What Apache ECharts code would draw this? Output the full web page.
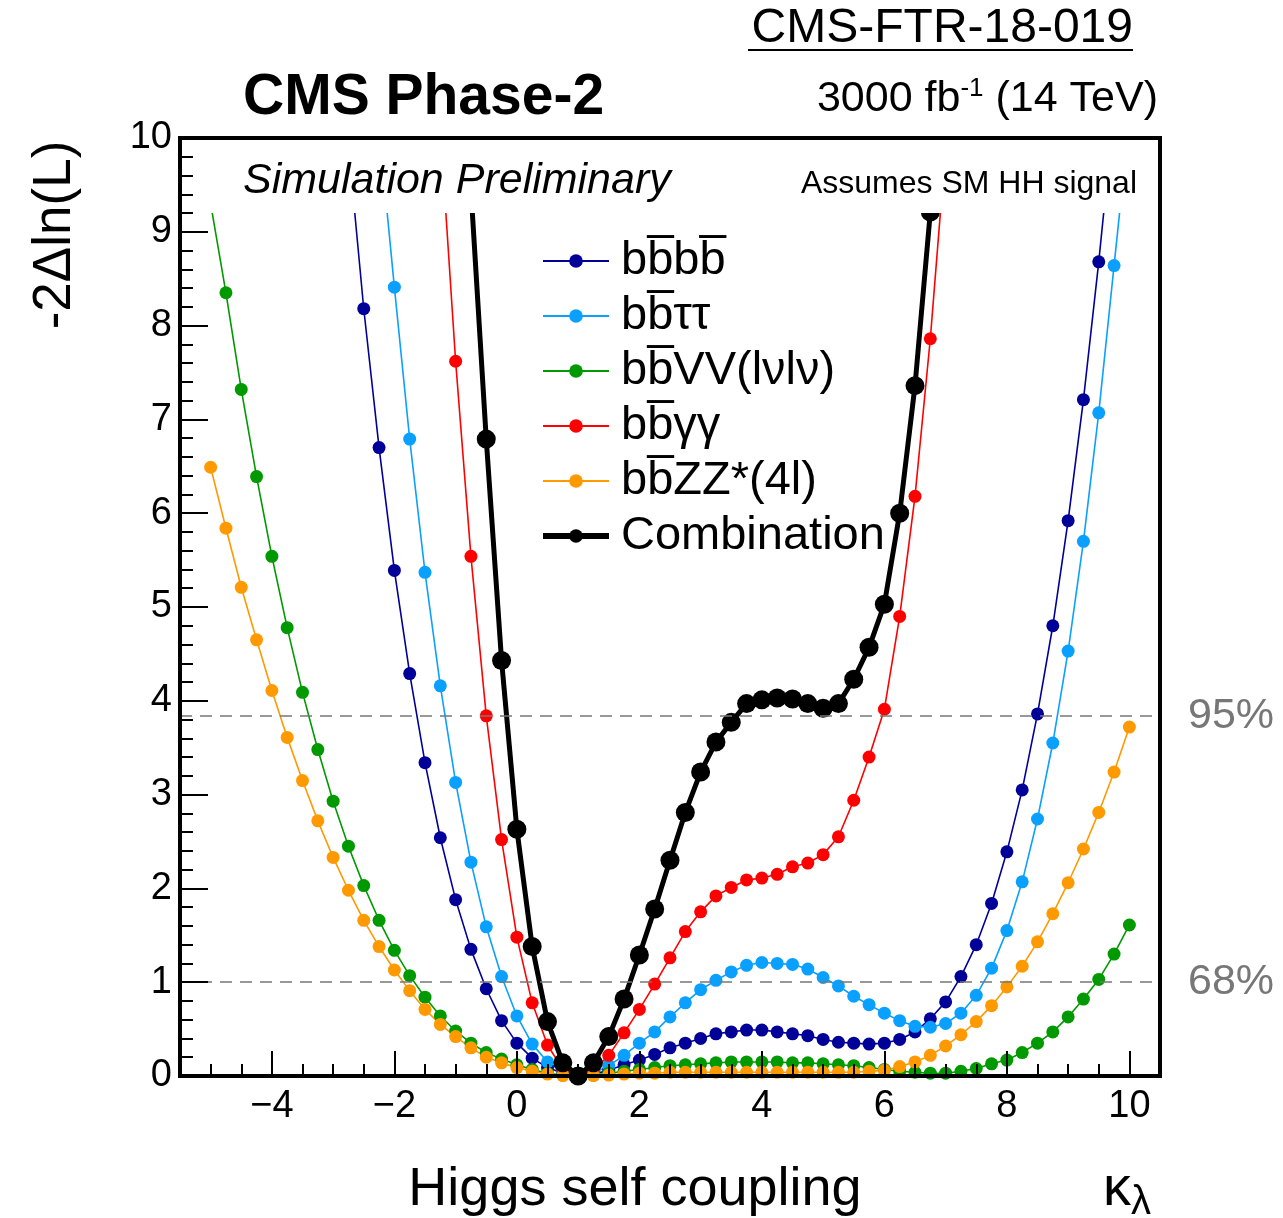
<!DOCTYPE html>
<html>
<head>
<meta charset="utf-8">
<script src="https://cdn.jsdelivr.net/npm/echarts@6/dist/echarts.min.js"></script>
<style>
html,body{margin:0;padding:0;background:#fff;}
#chart{width:1283px;height:1218px;}
</style>
</head>
<body>
<div id="chart"></div>
<script>
// kappa_lambda scan points
const kl = [-5,-4.75,-4.5,-4.25,-4,-3.75,-3.5,-3.25,-3,-2.75,-2.5,-2.25,-2,-1.75,-1.5,-1.25,-1,-0.75,-0.5,-0.25,
  0,0.25,0.5,0.75,1,1.25,1.5,1.75,2,2.25,2.5,2.75,3,3.25,3.5,3.75,4,4.25,4.5,4.75,
  5,5.25,5.5,5.75,6,6.25,6.5,6.75,7,7.25,7.5,7.75,8,8.25,8.5,8.75,9,9.25,9.5,9.75,10];

const bbbb = [null,null,null,null,null,null,null,null,null,9.92,8.18,6.70,5.39,4.29,3.34,2.54,1.88,1.35,0.93,0.59,
  0.35,0.19,0.09,0.03,0,0.02,0.06,0.12,0.17,0.23,0.30,0.35,0.40,0.45,0.47,0.49,0.49,0.47,0.45,0.43,
  0.39,0.36,0.35,0.34,0.35,0.39,0.47,0.61,0.79,1.06,1.40,1.84,2.39,3.05,3.86,4.80,5.92,7.21,8.68,10.3,null];

const bbtautau = [null,null,null,null,null,null,null,null,null,null,null,10.1,8.41,6.79,5.37,4.16,3.13,2.28,1.59,1.06,
  0.64,0.34,0.15,0.04,0,0.03,0.11,0.22,0.35,0.47,0.63,0.78,0.92,1.02,1.11,1.18,1.21,1.20,1.19,1.14,
  1.05,0.96,0.85,0.76,0.67,0.59,0.53,0.52,0.56,0.67,0.86,1.15,1.55,2.07,2.74,3.55,4.53,5.70,7.07,8.64,10.2];

const bbVV = [9.3,8.35,7.32,6.39,5.54,4.78,4.09,3.48,2.93,2.45,2.03,1.66,1.34,1.07,0.84,0.64,0.48,0.35,0.25,0.18,
  0.12,0.07,0.03,0.01,0,0.01,0.03,0.05,0.07,0.09,0.11,0.12,0.13,0.14,0.15,0.15,0.15,0.15,0.14,0.14,
  0.13,0.12,0.11,0.09,0.07,0.05,0.04,0.03,0.03,0.05,0.08,0.13,0.17,0.25,0.35,0.47,0.63,0.82,1.03,1.30,1.61];

const bbgg = [null,null,null,null,null,null,null,null,null,null,null,null,null,null,null,10.1,7.62,5.54,3.84,2.52,
  1.48,0.78,0.33,0.07,0,0.06,0.22,0.46,0.71,0.98,1.26,1.54,1.75,1.92,2.01,2.09,2.11,2.15,2.23,2.27,
  2.36,2.55,2.94,3.40,3.91,4.90,6.18,7.86,9.9,null,null,null,null,null,null,null,null,null,null,null,null];

const bbZZ = [6.49,5.84,5.21,4.65,4.11,3.61,3.15,2.72,2.33,1.98,1.66,1.38,1.13,0.91,0.71,0.55,0.42,0.30,0.20,0.14,
  0.09,0.05,0.02,0.005,0,0.005,0.01,0.02,0.03,0.03,0.04,0.04,0.04,0.04,0.04,0.04,0.04,0.04,0.04,0.04,
  0.04,0.04,0.04,0.05,0.06,0.10,0.15,0.22,0.32,0.44,0.58,0.75,0.95,1.17,1.43,1.73,2.06,2.42,2.81,3.24,3.72];

const comb = [null,null,null,null,null,null,null,null,null,null,null,null,null,null,null,null,null,9.45,6.79,4.43,
  2.63,1.38,0.58,0.14,0,0.14,0.42,0.82,1.29,1.78,2.30,2.81,3.24,3.56,3.77,3.97,4.01,4.03,4.02,3.97,
  3.92,3.97,4.23,4.57,5.03,6.00,7.36,9.21,null,null,null,null,null,null,null,null,null,null,null,null,null];

const xTicks = [-4,-2,0,2,4,6,8,10];
const cl95 = 3.84, cl68 = 1.0;
const coverFrom = 9.2;

const names = ['bb\u0305bb\u0305', 'bb\u0305\u03c4\u03c4', 'bb\u0305VV(l\u03bdl\u03bd)', 'bb\u0305\u03b3\u03b3', 'bb\u0305ZZ*(4l)', 'Combination'];
const colors = ['#000099', '#0aa0ff', '#009900', '#ff0000', '#ff9900', '#000000'];
const values = [bbbb, bbtautau, bbVV, bbgg, bbZZ, comb];

const FONT = '"Liberation Sans", Arial, Helvetica, sans-serif';

const series = values.map((vals, k) => {
  const isComb = k === 5;
  return {
    name: names[k],
    type: 'line',
    data: kl.map((x, i) => [x, vals[i]]),
    connectNulls: false,
    symbol: 'circle',
    symbolSize: isComb ? 19 : 13,
    color: colors[k],
    itemStyle: { color: colors[k] },
    lineStyle: { color: colors[k], width: isComb ? 5 : 1.6 },
    clip: true,
    z: isComb ? 4 : 3,
    animation: false
  };
});

// reference lines (68% / 95% CL)
series.push({
  name: 'cl', type: 'line', data: [], z: 2, animation: false,
  markLine: {
    silent: true, symbol: ['none', 'none'], animation: false,
    lineStyle: { color: '#777', type: [12, 8], width: 1.5 },
    label: { show: true, position: 'end', distance: 28, fontSize: 43, color: '#777', fontFamily: FONT },
    data: [
      { yAxis: cl95, label: { formatter: '95%' } },
      { yAxis: cl68, label: { formatter: '68%' } }
    ]
  }
});
// white box behind the "Simulation Preliminary" text region
series.push({
  name: 'cover', type: 'custom', z: 8, silent: true, animation: false, clip: false,
  data: [[0, 0]],
  renderItem: (params, api) => {
    const p1 = api.coord([-5.5, 10]);
    const p2 = api.coord([10.5, coverFrom]);
    return { type: 'rect', shape: { x: p1[0], y: p1[1] - 10, width: p2[0] - p1[0], height: p2[1] - p1[1] + 10 }, style: { fill: '#fff' } };
  }
});

const minusFmt = v => (v < 0 ? '\u2212' + Math.abs(v) : String(v));

const legendData = names.map((n, k) => k === 5 ? { name: n, lineStyle: { width: 6 } } : { name: n });

const option = {
  animation: false,
  backgroundColor: '#fff',
  grid: { left: 180, right: 123, top: 138, bottom: 142, show: true, borderColor: '#000', borderWidth: 4, backgroundColor: 'transparent', z: 20 },
  xAxis: [
    {
      type: 'value', min: -5.5, max: 10.5, position: 'bottom', z: 12,
      axisLine: { show: false, onZero: false }, splitLine: { show: false },
      axisTick: { show: true, inside: true, length: 25, customValues: xTicks, lineStyle: { color: '#000', width: 2 } },
      axisLabel: { show: true, customValues: xTicks, formatter: minusFmt, fontSize: 38, color: '#000', margin: 12, fontFamily: FONT }
    },
    {
      type: 'value', min: -5.5, max: 10.5, interval: 0.5, position: 'bottom', z: 12,
      axisLine: { show: false, onZero: false }, splitLine: { show: false },
      axisTick: { show: true, inside: true, length: 12, lineStyle: { color: '#000', width: 2 } },
      axisLabel: { show: false }
    }
  ],
  yAxis: {
    type: 'value', min: 0, max: 10, interval: 1, z: 12, position: 'left',
    axisLine: { show: false, onZero: false }, splitLine: { show: false },
    axisTick: { show: true, inside: true, length: 28, lineStyle: { color: '#000', width: 2 } },
    minorTick: { show: true, splitNumber: 5, length: 13, lineStyle: { color: '#000', width: 2 } },
    axisLabel: { fontSize: 38, color: '#000', margin: 8, fontFamily: FONT }
  },
  legend: {
    data: legendData, orient: 'vertical', left: 535, top: 232,
    itemWidth: 66, itemHeight: 17, itemGap: 7,
    textStyle: { fontSize: 47, lineHeight: 48, color: '#000', fontFamily: FONT, padding: [0, 0, 0, 7] },
    selectedMode: false, z: 25
  },
  graphic: [
    { type: 'text', left: 243, top: 70, z: 30, style: { text: 'CMS Phase-2', font: 'bold 57px ' + FONT, fill: '#000' } },
    { type: 'text', right: 150, top: 5, z: 30, style: { text: 'CMS-FTR-18-019', font: '48px ' + FONT, fill: '#000' } },
    { type: 'rect', left: 748, top: 49, z: 30, shape: { width: 385, height: 2 }, style: { fill: '#000' } },
    { type: 'text', right: 125, top: 76, z: 30, style: {
        text: '3000 fb{sup|-1} (14 TeV)', font: '43px ' + FONT, fill: '#000',
        rich: { sup: { fontSize: 26, fontFamily: FONT, verticalAlign: 'top', padding: [0, 0, 20, 0] } } } },
    { type: 'text', left: 243, top: 160, z: 30, style: { text: 'Simulation Preliminary', font: 'italic 43px ' + FONT, fill: '#000' } },
    { type: 'text', right: 146, top: 168, z: 30, style: { text: 'Assumes SM HH signal', font: '32px ' + FONT, fill: '#000' } },
    { type: 'text', x: 55, y: 235, rotation: Math.PI / 2, z: 30, style: { text: '-2\u0394ln(L)', font: '53px ' + FONT, fill: '#000', align: 'center', verticalAlign: 'middle' } },
    { type: 'text', x: 635, y: 1190, z: 30, style: { text: 'Higgs self coupling', font: '54px ' + FONT, fill: '#000', align: 'center', verticalAlign: 'middle' } },
    { type: 'text', x: 1103, y: 1190, z: 30, style: {
        text: '\u03ba{sub|\u03bb}', font: '56px ' + FONT, fill: '#000', verticalAlign: 'middle',
        rich: { sub: { fontSize: 40, fontFamily: FONT, verticalAlign: 'bottom', padding: [26, 0, 0, 0] } } } }
  ],
  series: series
};

const chart = echarts.init(document.getElementById('chart'), null, { renderer: 'canvas' });
chart.setOption(option);
</script>
</body>
</html>
